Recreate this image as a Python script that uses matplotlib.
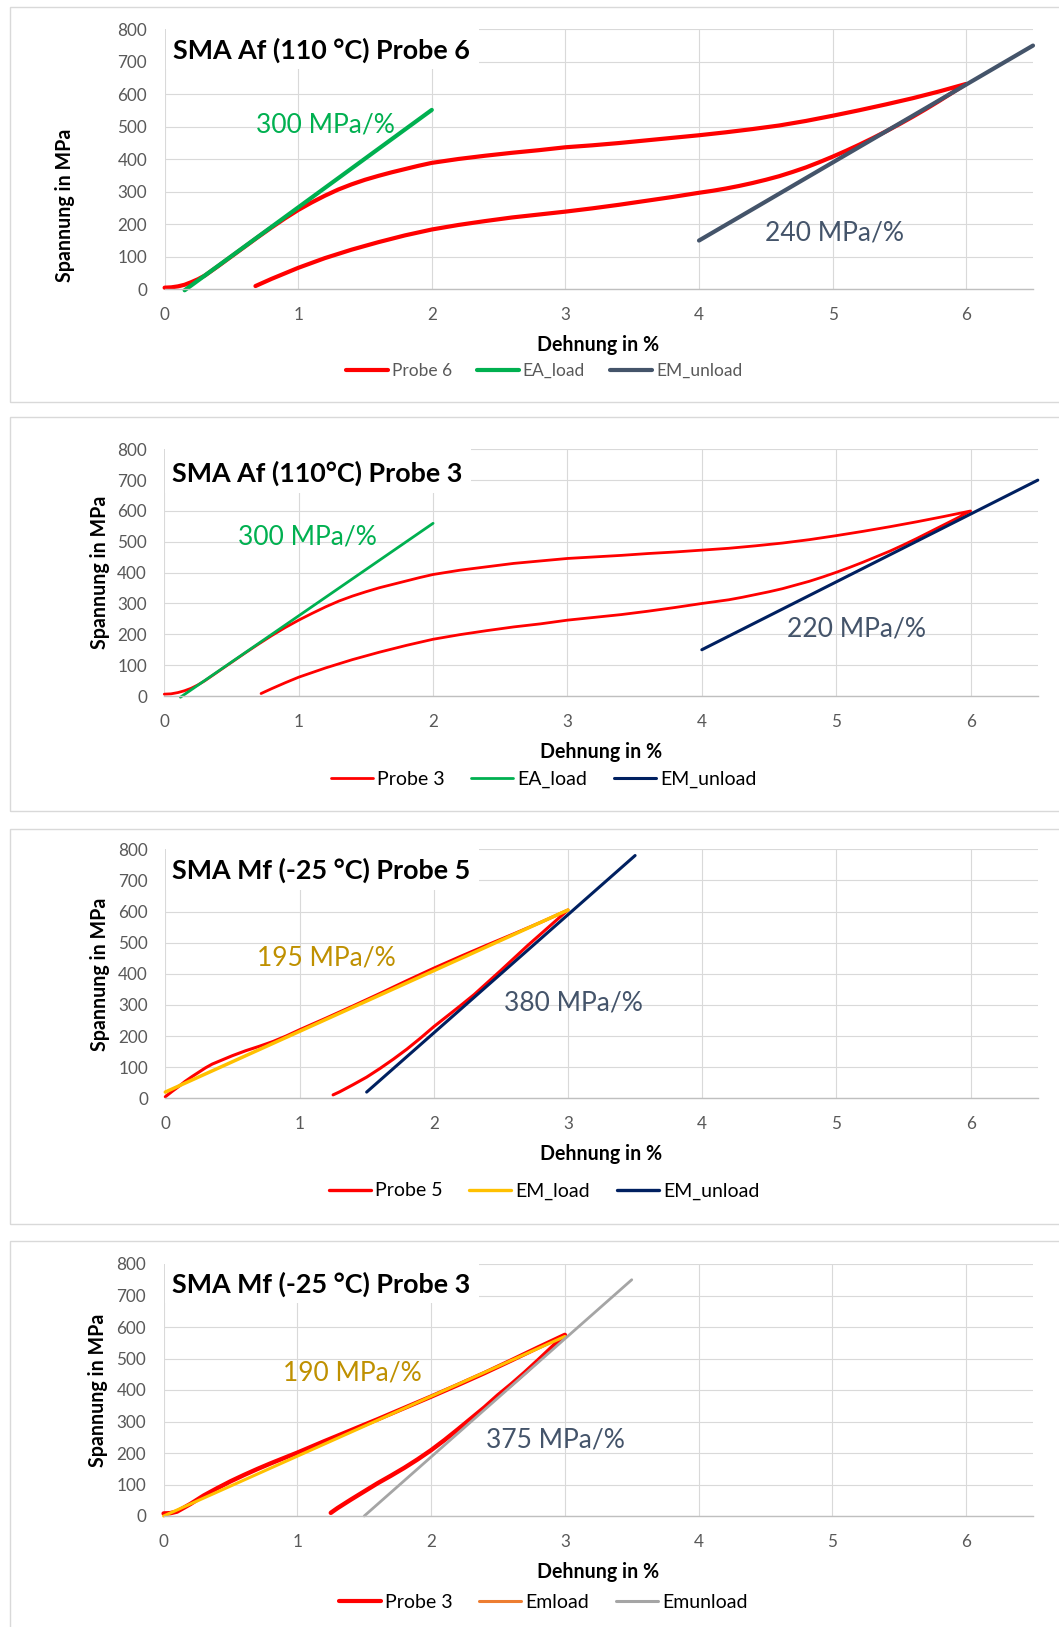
import matplotlib
matplotlib.use("Agg")
import matplotlib.pyplot as plt
from matplotlib.lines import Line2D
from matplotlib.patches import Rectangle

plt.rcParams['font.family'] = ['Lato', 'DejaVu Sans']

# ---------------- data ----------------
# SMA Af (110 °C) Probe 6 : loading then unloading (strain in %, stress in MPa)
p6_strain = [0, 0.05, 0.1, 0.15, 0.2, 0.25, 0.3, 0.4, 0.5, 0.6, 0.7, 0.8, 0.9, 1.0,
             1.1, 1.2, 1.3, 1.4, 1.5, 1.6, 1.7, 1.8, 1.9, 2.0, 2.2, 2.4, 2.6, 2.8,
             3.0, 3.2, 3.4, 3.6, 3.8, 4.0, 4.2, 4.4, 4.6, 4.8, 5.0, 5.2, 5.4, 5.6,
             5.8, 6.0,
             5.9, 5.8, 5.7, 5.6, 5.5, 5.4, 5.3, 5.2, 5.1, 5.0, 4.9, 4.8, 4.7, 4.6,
             4.5, 4.4, 4.3, 4.2, 4.1, 4.0, 3.8, 3.6, 3.4, 3.2, 3.0, 2.8, 2.6, 2.4,
             2.2, 2.0, 1.8, 1.6, 1.4, 1.2, 1.0, 0.9, 0.8, 0.68]
p6_stress = [5, 6, 9, 14, 22, 31, 42, 71, 101, 131, 161, 190, 218, 244,
             267, 288, 307, 323, 337, 349, 360, 370, 380, 389, 401, 411, 420, 428,
             437, 443, 450, 458, 466, 474, 483, 493, 504, 518, 534, 551, 569, 588,
             609, 632,
             606, 580, 555, 531, 508, 486, 465, 445, 426, 408, 391, 375, 361, 348,
             337, 327, 318, 310, 303, 297, 284, 272, 260, 249, 239, 230, 221, 210,
             198, 184, 166, 145, 122, 96, 66, 49, 32, 10]
p6_ea_strain = [0.15, 2.0]
p6_ea_stress = [-3, 552]          # 300 MPa/%
p6_em_strain = [4.0, 6.5]
p6_em_stress = [150, 750]         # 240 MPa/%

# SMA Af (110 °C) Probe 3
af3_strain = [0, 0.05, 0.1, 0.15, 0.2, 0.25, 0.3, 0.4, 0.5, 0.6, 0.7, 0.8, 0.9, 1.0,
              1.1, 1.2, 1.3, 1.4, 1.5, 1.6, 1.7, 1.8, 1.9, 2.0, 2.2, 2.4, 2.6, 2.8,
              3.0, 3.2, 3.4, 3.6, 3.8, 4.0, 4.2, 4.4, 4.6, 4.8, 5.0, 5.2, 5.4, 5.6,
              5.8, 6.0,
              5.9, 5.8, 5.7, 5.6, 5.5, 5.4, 5.3, 5.2, 5.1, 5.0, 4.9, 4.8, 4.7, 4.6,
              4.5, 4.4, 4.3, 4.2, 4.1, 4.0, 3.8, 3.6, 3.4, 3.2, 3.0, 2.8, 2.6, 2.4,
              2.2, 2.0, 1.8, 1.6, 1.4, 1.2, 1.0, 0.9, 0.8, 0.72]
af3_stress = [6, 7, 11, 17, 25, 36, 49, 79, 109, 139, 168, 196, 222, 246,
              268, 289, 308, 324, 338, 351, 362, 373, 384, 394, 408, 419, 430, 438,
              446, 451, 456, 462, 467, 473, 479, 487, 496, 507, 520, 534, 549, 565,
              582, 600,
              577, 555, 533, 511, 490, 470, 452, 434, 417, 401, 386, 372, 360, 348,
              338, 329, 320, 312, 306, 300, 287, 275, 264, 255, 246, 234, 224, 212,
              199, 184, 164, 142, 118, 91, 61, 43, 24, 8]
af3_ea_strain = [0.12, 2.0]
af3_ea_stress = [-4, 560]         # 300 MPa/%
af3_em_strain = [4.0, 6.5]
af3_em_stress = [150, 700]        # 220 MPa/%

# SMA Mf (-25 °C) Probe 5
p5_strain = [0, 0.05, 0.1, 0.15, 0.2, 0.25, 0.3, 0.35, 0.4, 0.5, 0.6, 0.7, 0.8, 0.9,
             1.0, 1.2, 1.4, 1.6, 1.8, 2.0, 2.2, 2.4, 2.6, 2.8, 3.0,
             2.9, 2.8, 2.7, 2.6, 2.5, 2.4, 2.3, 2.2, 2.1, 2.0, 1.9, 1.8, 1.7, 1.6,
             1.5, 1.4, 1.3, 1.25]
p5_stress = [5, 22, 38, 55, 70, 84, 98, 110, 119, 137, 153, 167, 182, 200,
             220, 258, 297, 337, 378, 418, 456, 493, 529, 566, 605,
             567, 529, 491, 451, 411, 372, 333, 298, 264, 230, 193, 158, 126, 96,
             68, 44, 21, 11]
p5_eml_strain = [0.0, 3.0]
p5_eml_stress = [20, 605]         # 195 MPa/%
p5_emu_strain = [1.5, 3.5]
p5_emu_stress = [20, 780]         # 380 MPa/%

# SMA Mf (-25 °C) Probe 3
mf3_strain = [0, 0.05, 0.1, 0.2, 0.3, 0.4, 0.5, 0.6, 0.7, 0.8, 0.9, 1.0, 1.2, 1.4,
              1.6, 1.8, 2.0, 2.2, 2.4, 2.6, 2.8, 3.0,
              2.9, 2.8, 2.7, 2.6, 2.5, 2.4, 2.3, 2.2, 2.1, 2.0, 1.9, 1.8, 1.7, 1.6,
              1.5, 1.4, 1.3, 1.25]
mf3_stress = [8, 9, 14, 38, 65, 88, 110, 130, 149, 167, 184, 201, 237, 272,
              307, 343, 379, 416, 454, 494, 535, 575,
              534, 494, 455, 418, 383, 345, 310, 275, 241, 209, 180, 153, 128, 104,
              78, 52, 25, 10]
mf3_eml_strain = [0.0, 3.0]
mf3_eml_stress = [0, 570]         # 190 MPa/%
mf3_emu_strain = [1.5, 3.5]
mf3_emu_stress = [0, 750]         # 375 MPa/%

x_ticks = [0, 1, 2, 3, 4, 5, 6]
y_ticks = [0, 100, 200, 300, 400, 500, 600, 700, 800]

# ---------------- layout helpers ----------------
W, H = 1059, 1627
fig = plt.figure(figsize=(W / 100, H / 100), dpi=100, facecolor='white')


def fx(x):
    return x / W


def fy(y):
    return 1 - y / H


GRID = '#D9D9D9'
TICK = '#595959'


def make_axes(left, top, right, bottom):
    ax = fig.add_axes([fx(left), fy(bottom), fx(right) - fx(left), fy(top) - fy(bottom)])
    ax.set_xlim(0, 6.5)
    ax.set_ylim(0, 800)
    ax.set_xticks(x_ticks)
    ax.set_yticks(y_ticks)
    ax.set_axisbelow(True)
    ax.grid(True, color=GRID, linewidth=0.8)
    for s in ('top', 'right', 'left'):
        ax.spines[s].set_visible(False)
    ax.spines['bottom'].set_color('#BFBFBF')
    ax.spines['bottom'].set_linewidth(1.0)
    ax.tick_params(length=0, labelsize=12.3, labelcolor=TICK)
    ax.tick_params(axis='x', pad=13.0)
    ax.tick_params(axis='y', pad=12.5)
    ax.patch.set_alpha(0)
    return ax


def panel_frame(top, bottom):
    fig.patches.append(Rectangle((fx(10), fy(bottom)), fx(1075) - fx(10), fy(top) - fy(bottom),
                                 transform=fig.transFigure, fill=False,
                                 edgecolor=GRID, linewidth=1.0, zorder=-5))


def title_box(ax, left, top, right, bottom):
    r = Rectangle((fx(left), fy(bottom)), fx(right) - fx(left), fy(top) - fy(bottom),
                  transform=fig.transFigure, facecolor='white', edgecolor='none',
                  zorder=1.5, clip_on=False)
    ax.add_patch(r)


def curve(ax, x, y, color, lw, z=2):
    ax.plot(x, y, color=color, linewidth=lw, solid_capstyle='round',
            solid_joinstyle='round', clip_on=False, zorder=z)


def legend(cx, cy, entries, size, textcolor, gap=25):
    em = size * 100 / 72
    handles = [Line2D([], [], color=c, linewidth=lw, solid_capstyle='round') for _, c, lw in entries]
    labels = [n for n, _, _ in entries]
    fig.legend(handles, labels, loc='center', bbox_to_anchor=(fx(cx), fy(cy)),
               ncol=3, frameon=False, fontsize=size, labelcolor=textcolor,
               handlelength=42 / em, handletextpad=4 / em, columnspacing=gap / em,
               borderpad=0.2)


def label_text(x, y, s, **kw):
    fig.text(fx(x), fy(y), s, **kw)


RED = '#FF0000'
GREEN = '#00B050'
SLATE = '#44546A'
NAVY = '#002060'
YELLOW = '#FFC000'
ORANGE = '#ED7D31'
GRAY = '#A5A5A5'
GOLD = '#BF9000'

TITLE_SIZE = 19.4
NOTE_SIZE = 19.0
AXIS_SIZE = 14.1
LEGEND_SIZE = 14.0

# ---------------- panel 1 ----------------
panel_frame(6.7, 402.3)
ax1 = make_axes(164.6, 29.3, 1033, 289.3)
title_box(ax1, 165.6, 27, 479, 69)
curve(ax1, p6_strain, p6_stress, RED, 3.0)
curve(ax1, p6_ea_strain, p6_ea_stress, GREEN, 3.0)
curve(ax1, p6_em_strain, p6_em_stress, SLATE, 3.0)
label_text(173, 58.3, 'SMA Af (110 °C) Probe 6', fontsize=TITLE_SIZE, fontweight='bold',
           ha='left', va='baseline')
label_text(256, 132.7, '300 MPa/%', fontsize=NOTE_SIZE, color=GREEN, ha='left', va='baseline')
label_text(765, 240.7, '240 MPa/%', fontsize=NOTE_SIZE, color=SLATE, ha='left', va='baseline')
label_text(65, 205, 'Spannung in MPa', fontsize=AXIS_SIZE, fontweight='bold',
           rotation=90, ha='center', va='center')
label_text(598.5, 345.3, 'Dehnung in %', fontsize=AXIS_SIZE, fontweight='bold',
           ha='center', va='center')
legend(544, 371, [('Probe 6', RED, 3.0), ('EA_load', GREEN, 3.0), ('EM_unload', SLATE, 3.0)],
       12.5, TICK)

# ---------------- panel 2 ----------------
panel_frame(417.3, 811)
ax2 = make_axes(164.3, 449.3, 1037.8, 696)
title_box(ax2, 165.3, 447, 471, 493.3)
curve(ax2, af3_strain, af3_stress, RED, 2.0)
curve(ax2, af3_ea_strain, af3_ea_stress, GREEN, 2.0)
curve(ax2, af3_em_strain, af3_em_stress, NAVY, 2.2)
label_text(172.4, 481.7, 'SMA Af (110°C) Probe 3', fontsize=TITLE_SIZE, fontweight='bold',
           ha='left', va='baseline')
label_text(237.7, 545, '300 MPa/%', fontsize=NOTE_SIZE, color=GREEN, ha='left', va='baseline')
label_text(787, 636, '220 MPa/%', fontsize=NOTE_SIZE, color=SLATE, ha='left', va='baseline')
label_text(99.7, 572.7, 'Spannung in MPa', fontsize=AXIS_SIZE, fontweight='bold',
           rotation=90, ha='center', va='center')
label_text(601, 752.3, 'Dehnung in %', fontsize=AXIS_SIZE, fontweight='bold',
           ha='center', va='center')
legend(543.5, 779.3, [('Probe 3', RED, 2.0), ('EA_load', GREEN, 2.0), ('EM_unload', NAVY, 2.2)],
       LEGEND_SIZE, 'black', gap=27)

# ---------------- panel 3 ----------------
panel_frame(829.3, 1224)
ax3 = make_axes(165.3, 849.3, 1037.8, 1098.3)
title_box(ax3, 166.3, 847, 479.4, 890)
curve(ax3, p5_strain, p5_stress, RED, 2.2)
curve(ax3, p5_eml_strain, p5_eml_stress, YELLOW, 2.5)
curve(ax3, p5_emu_strain, p5_emu_stress, NAVY, 2.2)
label_text(172.4, 878.3, 'SMA Mf (-25 °C) Probe 5', fontsize=TITLE_SIZE, fontweight='bold',
           ha='left', va='baseline')
label_text(257, 965, '195 MPa/%', fontsize=NOTE_SIZE, color=GOLD, ha='left', va='baseline')
label_text(503.7, 1010, '380 MPa/%', fontsize=NOTE_SIZE, color=SLATE, ha='left', va='baseline')
label_text(99.7, 974.5, 'Spannung in MPa', fontsize=AXIS_SIZE, fontweight='bold',
           rotation=90, ha='center', va='center')
label_text(601, 1154.3, 'Dehnung in %', fontsize=AXIS_SIZE, fontweight='bold',
           ha='center', va='center')
legend(544, 1191, [('Probe 5', RED, 2.4), ('EM_load', YELLOW, 2.4), ('EM_unload', NAVY, 2.4)],
       LEGEND_SIZE, 'black', gap=27)

# ---------------- panel 4 ----------------
panel_frame(1240.7, 1660)
ax4 = make_axes(163.6, 1264, 1033, 1516)
title_box(ax4, 164.6, 1262, 479.4, 1303.3)
curve(ax4, mf3_strain, mf3_stress, RED, 3.2)
curve(ax4, mf3_eml_strain, mf3_eml_stress, YELLOW, 2.2)
curve(ax4, mf3_emu_strain, mf3_emu_stress, GRAY, 2.0)
label_text(172.4, 1292.7, 'SMA Mf (-25 °C) Probe 3', fontsize=TITLE_SIZE, fontweight='bold',
           ha='left', va='baseline')
label_text(283, 1380.7, '190 MPa/%', fontsize=NOTE_SIZE, color=GOLD, ha='left', va='baseline')
label_text(485.8, 1447.3, '375 MPa/%', fontsize=NOTE_SIZE, color=SLATE, ha='left', va='baseline')
label_text(98, 1390, 'Spannung in MPa', fontsize=AXIS_SIZE, fontweight='bold',
           rotation=90, ha='center', va='center')
label_text(597.6, 1572.3, 'Dehnung in %', fontsize=AXIS_SIZE, fontweight='bold',
           ha='center', va='center')
legend(543, 1602.5, [('Probe 3', RED, 3.0), ('Emload', ORANGE, 2.2), ('Emunload', GRAY, 2.2)],
       LEGEND_SIZE, 'black', gap=27)

fig.savefig('out.png', dpi=100, facecolor='white')
